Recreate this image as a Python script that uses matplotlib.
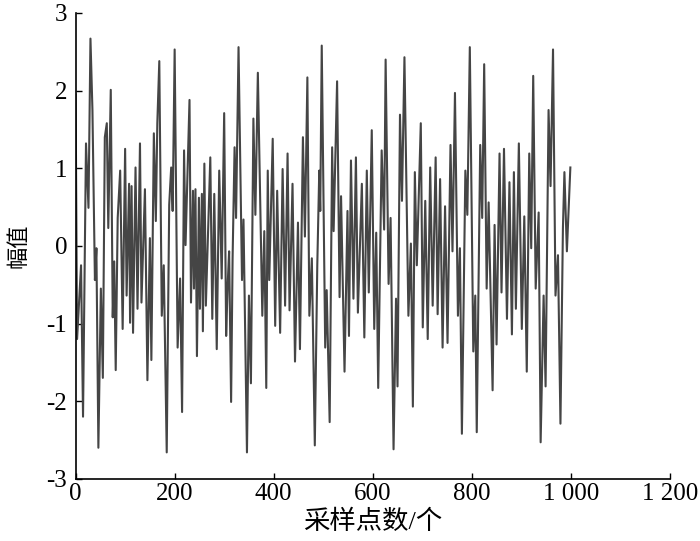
import matplotlib
matplotlib.use('Agg')
import matplotlib.pyplot as plt
import numpy as np

# signal extrema (sample index, amplitude)
sample_idx = [0, 3, 11, 15, 21, 26, 30, 34, 39, 42, 46, 51, 55, 59, 63, 66, 71, 75, 78, 81,
              85, 90, 95, 100, 103, 108, 110, 113, 116, 121, 125, 130, 133, 140, 145, 150, 153, 158, 162, 165,
              169, 174, 178, 184, 189, 193, 196, 200, 206, 211, 215, 219, 222, 226, 230, 233, 237, 239, 242, 245,
              249, 251, 255, 257, 260, 263, 266, 272, 276, 280, 285, 290, 295, 300, 304, 307, 310, 314, 317, 321,
              324, 329, 336, 339, 346, 350, 354, 359, 363, 368, 377, 381, 385, 388, 391, 398, 403, 407, 413, 418,
              423, 428, 432, 438, 443, 449, 453, 459, 463, 468, 472, 477, 483, 488, 492, 494, 497, 504, 507, 513,
              518, 521, 528, 533, 536, 543, 549, 552, 556, 561, 566, 570, 578, 583, 588, 592, 598, 603, 607, 611,
              618, 623, 626, 632, 636, 642, 647, 650, 655, 659, 664, 672, 677, 681, 685, 689, 697, 701, 706, 711,
              716, 721, 727, 731, 736, 741, 746, 751, 757, 761, 766, 772, 776, 780, 787, 791, 796, 803, 807, 810,
              817, 821, 825, 830, 834, 842, 846, 850, 856, 860, 865, 871, 876, 881, 885, 889, 895, 901, 906, 911,
              916, 920, 924, 929, 935, 939, 945, 949, 955, 959, 964, 969, 974, 979, 984, 987, 992, 999]
amplitude = [1.95, -1.20, -0.25, -2.20, 1.32, 0.49, 2.67, 1.75, -0.44, -0.03, -2.60, -0.55, -1.70, 1.40, 1.58, 0.23, 2.01, -0.92, -0.20, -1.60,
             0.36, 0.97, -1.07, 1.25, -0.64, 0.80, -0.99, 0.77, -1.12, 1.01, -0.81, 1.32, -0.73, 0.73, -1.73, 0.10, -1.47, 1.45, 0.32, 1.58,
             2.38, -0.90, -0.25, -2.66, 0.53, 1.01, 0.45, 2.53, -1.31, -0.42, -2.14, 1.23, 0.01, 0.97, 1.88, -0.73, 0.71, -0.55, 0.73, -1.42,
             0.62, -0.81, 0.67, -1.10, 1.06, -0.77, -0.12, 1.14, -0.94, 0.67, -1.33, 0.97, -0.42, 1.71, -1.16, -0.51, -0.07, -2.01, -0.16, 1.27,
             0.36, 2.56, -0.44, 0.34, -2.66, -0.64, -1.77, 1.64, 0.40, 2.23, -0.90, 0.19, -1.83, 0.97, -0.44, 1.38, -1.03, 0.71, -1.12, 0.99,
             -0.77, 1.19, -0.83, 0.80, -1.49, 0.30, -1.33, 1.40, 0.12, 2.17, -0.90, -0.16, -2.57, -0.25, 0.97, 0.45, 2.58, -1.31, -0.57, -2.27,
             1.27, 0.19, 2.12, -0.66, 0.64, -1.62, 0.45, -1.16, 1.10, -0.68, 1.14, -0.86, 0.80, -1.18, 0.97, -0.60, 1.49, -1.07, 0.17, -1.83,
             1.23, 0.21, 2.40, -0.49, 0.36, -2.62, -0.68, -1.81, 1.69, 0.58, 2.43, -0.90, 0.03, -2.07, 0.95, -0.25, 1.58, -1.05, 0.58, -1.20,
             1.01, -0.77, 1.14, -0.88, 0.86, -1.31, 0.51, -1.25, 1.30, -0.07, 1.97, -0.90, -0.03, -2.42, 0.97, 0.40, 2.56, -1.36, -0.64, -2.40,
             1.30, 0.36, 2.34, -0.55, 0.56, -1.86, 0.27, -1.27, 1.19, -0.60, 1.25, -0.94, 0.82, -1.14, 0.95, -0.81, 1.32, -1.07, 0.38, -1.62,
             1.19, -0.03, 2.19, -0.55, 0.43, -2.53, -0.64, -1.81, 1.75, 0.77, 2.53, -0.64, -0.12, -2.29, 0.23, 0.95, -0.07, 1.01]

x_ticks = [0, 200, 400, 600, 800, 1000, 1200]
x_tick_labels = ['0', '200', '400', '600', '800', '1 000', '1 200']
y_ticks = [-3, -2, -1, 0, 1, 2, 3]
y_tick_labels = ['-3', '-2', '-1', '0', '1', '2', '3']

plt.rcParams['font.family'] = ['Liberation Serif', 'Noto Sans CJK SC']

fig = plt.figure(figsize=(7, 5.41), dpi=100)
ax = fig.add_axes([0.108, 0.115, 0.849, 0.861])

ax.plot(sample_idx, amplitude, color='#454545', linewidth=1.5)

ax.set_xlim(0, 1200)
ax.set_ylim(-3, 3)
ax.set_xticks(x_ticks)
ax.set_xticklabels(x_tick_labels)
ax.set_yticks(y_ticks)
ax.set_yticklabels(y_tick_labels)

ax.spines['top'].set_visible(False)
ax.spines['right'].set_visible(False)
for s in ['left', 'bottom']:
    ax.spines[s].set_linewidth(1.2)
ax.tick_params(axis='x', direction='in', length=4, width=1, labelsize=18, pad=3)
ax.tick_params(axis='y', direction='in', length=4, width=1, labelsize=18, pad=6)

ax.set_xlabel('采样点数/个', fontsize=19, labelpad=3)
ax.set_ylabel('幅值', fontsize=16, labelpad=12)

fig.savefig('out.png', dpi=100)
